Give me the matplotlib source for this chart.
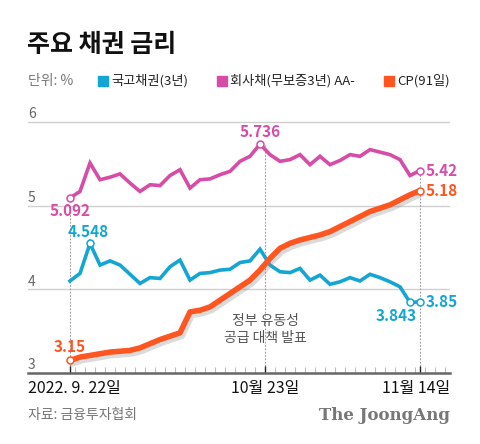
import numpy as np
import matplotlib
matplotlib.use("Agg")
import matplotlib.pyplot as plt
import matplotlib.patheffects as pe
import matplotlib.transforms as mtransforms

plt.rcParams["font.family"] = ["Noto Sans CJK KR", "DejaVu Sans"]

# trading days from 2022-09-22 to 2022-11-14 (36 points)
treasury_3y = [4.10, 4.19, 4.548, 4.29, 4.34, 4.29, 4.18, 4.07, 4.14, 4.13,
               4.27, 4.35, 4.11, 4.19, 4.20, 4.23, 4.24, 4.32, 4.34, 4.48,
               4.29, 4.21, 4.20, 4.25, 4.11, 4.17, 4.06, 4.09, 4.14, 4.10,
               4.18, 4.14, 4.09, 4.03, 3.843, 3.85]
corp_aa = [5.092, 5.17, 5.51, 5.31, 5.34, 5.38, 5.27, 5.17, 5.25, 5.24,
           5.36, 5.43, 5.21, 5.31, 5.32, 5.37, 5.41, 5.53, 5.59, 5.736,
           5.61, 5.53, 5.55, 5.61, 5.49, 5.59, 5.49, 5.54, 5.61, 5.59,
           5.67, 5.64, 5.61, 5.55, 5.36, 5.42]
cp_91d = [3.15, 3.19, 3.21, 3.23, 3.25, 3.26, 3.27, 3.30, 3.35, 3.40,
          3.44, 3.48, 3.73, 3.75, 3.79, 3.87, 3.95, 4.03, 4.11, 4.23,
          4.37, 4.49, 4.55, 4.59, 4.62, 4.65, 4.69, 4.75, 4.81, 4.87,
          4.93, 4.97, 5.01, 5.07, 5.13, 5.18]

series_names = ["국고채권(3년)", "회사채(무보증3년) AA-", "CP(91일)"]
y_ticks = [3, 4, 5, 6]
date_labels = ["2022. 9. 22일", "10월 23일", "11월 14일"]
date_pos = [0, 19.5, 35]

BLUE = "#14a6d3"
PINK = "#d64ca6"
ORANGE = "#ff5520"

W, H = 480, 444
fig = plt.figure(figsize=(W / 100, H / 100), dpi=100)


def px(x, y):
    return x / W, 1 - y / H


ax = fig.add_axes([28 / W, (H - 373) / H, 422 / W, 263 / H])
x = np.arange(len(cp_91d))
ax.set_xlim(-4.2, 38)
ax.set_ylim(3, 6 + 12 / 83.7)

for v in y_ticks[1:]:
    ax.axhline(v, color="#d0d0d0", lw=1, zorder=0)
trans = mtransforms.blended_transform_factory(ax.transAxes, ax.transData)
for v in y_ticks:
    ax.text(0.0, v + 0.045, str(v), transform=trans, ha="left", va="baseline",
            fontsize=10, color="#666666")

# dotted guide lines
dots = dict(colors="#999999", lw=0.8, linestyles=(0, (1.5, 1.5)), zorder=1)
ax.vlines(0, 3, 4.92, **dots)
ax.vlines(19.5, 3, 5.72, **dots)
ax.vlines(35, 3, 5.42, **dots)

ax.plot(x, corp_aa, color=PINK, lw=2.6, solid_joinstyle="miter", zorder=3)
ax.plot(x, treasury_3y, color=BLUE, lw=2.6, solid_joinstyle="miter", zorder=3)
ax.plot(x, cp_91d, color=ORANGE, lw=4.0, solid_capstyle="round", zorder=4,
        path_effects=[pe.SimpleLineShadow(offset=(1.5, -2.5), shadow_color="#888888", alpha=0.3),
                      pe.Normal()])

mk = dict(marker="o", ms=5, mfc="white", mew=1.1, ls="none", zorder=6)
ax.plot([0, 19, 35], [corp_aa[0], corp_aa[19], corp_aa[35]], mec=PINK, **mk)
ax.plot([2, 34, 35], [treasury_3y[2], treasury_3y[34], treasury_3y[35]], mec=BLUE, **mk)
ax.plot([0, 35], [cp_91d[0], cp_91d[35]], mec=ORANGE, **mk)

lab = dict(fontsize=11, fontweight="bold", zorder=7, textcoords="offset points")
ax.annotate("5.092", (0, corp_aa[0]), xytext=(0, -9.5), ha="center", va="center",
            color=PINK, **lab)
ax.annotate("5.736", (19, corp_aa[19]), xytext=(0, 8.5), ha="center", va="center",
            color=PINK, **lab)
ax.annotate("5.42", (35, corp_aa[35]), xytext=(4, 0), ha="left", va="center",
            color=PINK, **lab)
ax.annotate("4.548", (2, treasury_3y[2]), xytext=(-1, 8.5), ha="center", va="center",
            color=BLUE, **lab)
ax.annotate("3.843", (34, treasury_3y[34]), xytext=(-10, -10), ha="center", va="center",
            color=BLUE, **lab)
ax.annotate("3.85", (35, treasury_3y[35]), xytext=(4, 0), ha="left", va="center",
            color=BLUE, **lab)
ax.annotate("3.15", (0, cp_91d[0]), xytext=(0, 9.5), ha="center", va="center",
            color=ORANGE, **lab)
ax.annotate("5.18", (35, cp_91d[35]), xytext=(4, 0), ha="left", va="center",
            color=ORANGE, **lab)

ax.text(19.5, 3.52, "정부 유동성\n공급 대책 발표", ha="center", va="center",
        fontsize=10, color="#555555", linespacing=1.3, zorder=5)

for s in ["top", "right", "left"]:
    ax.spines[s].set_visible(False)
ax.spines["bottom"].set_color("#666666")
ax.spines["bottom"].set_linewidth(1.8)
ax.set_yticks([])
ax.set_xticks(date_pos)
ax.set_xticklabels([])
ax.set_xticks(np.arange(0.5, 37.6, 1), minor=True)
ax.tick_params(axis="x", which="minor", direction="in", length=4, width=0.8, color="#bbbbbb")
ax.tick_params(axis="x", which="major", direction="in", length=5, width=1.0, color="#222222")

# x labels
xl = dict(va="center", fontsize=11.5, fontweight="medium", color="#111111")
fig.text(*px(28, 388), date_labels[0], ha="left", **xl)
fig.text(*px(265, 388), date_labels[1], ha="center", **xl)
fig.text(*px(450, 388), date_labels[2], ha="right", **xl)

# title and legend
fig.text(*px(27, 45), "주요 채권 금리", ha="left", va="center", fontsize=18,
         fontweight="heavy", color="#111111")
fig.text(*px(28, 81), "단위: %", ha="left", va="center", fontsize=10, color="#777777")

renderer = fig.canvas.get_renderer()
texts = []
for name in series_names:
    t = fig.text(0, 1 - 81 / H, name, ha="left", va="center", fontsize=9.5, color="#222222")
    texts.append(t)
widths = [t.get_window_extent(renderer).width for t in texts]
box, pad = 10, 3
total = sum(widths) + len(widths) * (box + pad)
gap = (450 - 98 - total) / (len(widths) - 1)
cur = 98
for t, w, c in zip(texts, widths, [BLUE, PINK, ORANGE]):
    fig.patches.append(plt.Rectangle(px(cur, 86), box / W, box / H, color=c,
                                     transform=fig.transFigure, figure=fig))
    t.set_x((cur + box + pad) / W)
    cur += box + pad + w + gap

# footer
fig.text(*px(28, 415), "자료: 금융투자협회", ha="left", va="center", fontsize=10, color="#777777")
fig.text(*px(450, 415), "The JoongAng", ha="right", va="center", fontsize=12,
         fontweight="bold", family="DejaVu Serif", color="#777777")

fig.savefig("out.png", dpi=100)
